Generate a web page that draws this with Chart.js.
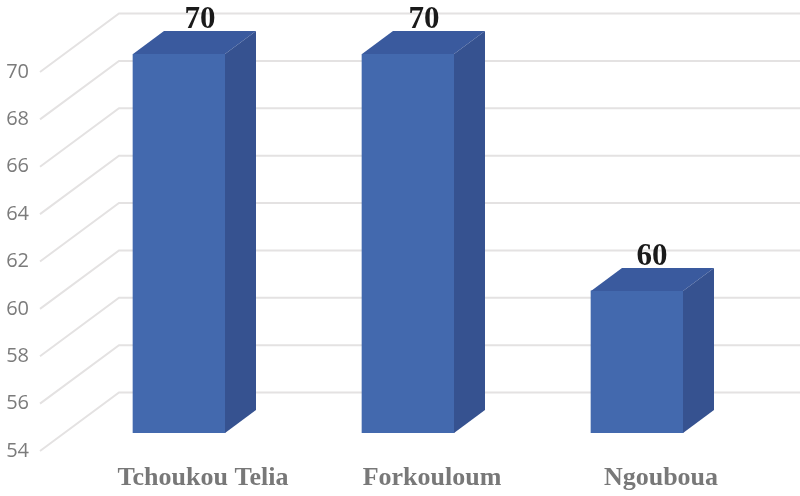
<!DOCTYPE html>
<html>
<head>
<meta charset="utf-8">
<script src="https://cdn.jsdelivr.net/npm/chart.js@4/dist/chart.umd.min.js"></script>
<style>
  html, body { margin: 0; padding: 0; background: #fff; }
  canvas { display: block; }
</style>
</head>
<body>
<canvas id="grafica" width="800" height="496"></canvas>
<script>
// data
const categories = ['Tchoukou Telia', 'Forkouloum', 'Ngouboua'];
const values = [70, 70, 60];
const yTicks = [54, 56, 58, 60, 62, 64, 66, 68, 70];

// 3D look
const depthX = 31, depthY = 23;      // bar depth
const wallY = 40.5;                  // front plane to back wall
const sideY = 18;                    // front plane to near edge of side wall
const wallLeft = 40, wallBack = 119;
const valueNudge = [21, 16, 15];     // value text sits a bit right of the bar centre
const frontColor = '#4369ae', topColor = '#3a5a9e', sideColor = '#365290';
const gridColor = '#e4e2e2';

const fake3d = {
  id: 'fake3d',
  beforeDatasetsDraw(chart) {
    const { ctx, scales: { y } } = chart;
    ctx.save();
    ctx.strokeStyle = gridColor;
    ctx.lineWidth = 2;
    yTicks.forEach(t => {
      const p = y.getPixelForValue(t);
      ctx.beginPath();
      ctx.moveTo(wallLeft, p + sideY);
      ctx.lineTo(wallBack, p - wallY);
      ctx.lineTo(chart.width, p - wallY);
      ctx.stroke();
    });
    ctx.restore();
  },
  afterDatasetsDraw(chart) {
    const { ctx, scales: { y } } = chart;
    const floor = y.getPixelForValue(yTicks[0]);
    ctx.save();
    chart.getDatasetMeta(0).data.forEach((bar, i) => {
      const l = bar.x - bar.width / 2, r = bar.x + bar.width / 2;
      // top
      ctx.fillStyle = topColor;
      ctx.beginPath();
      ctx.moveTo(l, bar.y);
      ctx.lineTo(l + depthX, bar.y - depthY);
      ctx.lineTo(r + depthX, bar.y - depthY);
      ctx.lineTo(r, bar.y);
      ctx.closePath();
      ctx.fill();
      // right side
      ctx.fillStyle = sideColor;
      ctx.beginPath();
      ctx.moveTo(r, bar.y);
      ctx.lineTo(r + depthX, bar.y - depthY);
      ctx.lineTo(r + depthX, floor - depthY);
      ctx.lineTo(r, floor);
      ctx.closePath();
      ctx.fill();
      // value
      ctx.fillStyle = '#1a1a1a';
      ctx.font = 'bold 31px "Liberation Serif"';
      ctx.textAlign = 'center';
      ctx.textBaseline = 'alphabetic';
      ctx.fillText(String(values[i]), bar.x + valueNudge[i], bar.y - 26);
    });
    ctx.restore();
  }
};

new Chart(document.getElementById('grafica'), {
  type: 'bar',
  data: {
    labels: categories,
    datasets: [{
      data: values,
      backgroundColor: frontColor,
      borderWidth: 0,
      barThickness: 92
    }]
  },
  plugins: [fake3d],
  options: {
    responsive: false,
    animation: false,
    layout: { padding: { left: 0, right: 48.5, top: 54, bottom: 0 } },
    plugins: { legend: { display: false }, tooltip: { enabled: false } },
    scales: {
      x: {
        grid: { display: false, drawTicks: false },
        border: { display: false },
        afterFit(scale) { scale.height = 63; },
        ticks: {
          color: '#787878',
          padding: 30,
          labelOffset: 24,
          maxRotation: 0,
          font: { family: '"Liberation Serif"', size: 26, weight: 'bold' }
        }
      },
      y: {
        min: yTicks[0],
        max: yTicks[yTicks.length - 1],
        grid: { display: false, drawTicks: false },
        border: { display: false },
        afterFit(scale) { scale.width = 64.5; },
        ticks: {
          stepSize: 2,
          color: '#7b7b7b',
          padding: 35.5,
          labelOffset: 18,
          font: { family: '"Open Sans"', size: 20 }
        }
      }
    }
  }
});
</script>
</body>
</html>
